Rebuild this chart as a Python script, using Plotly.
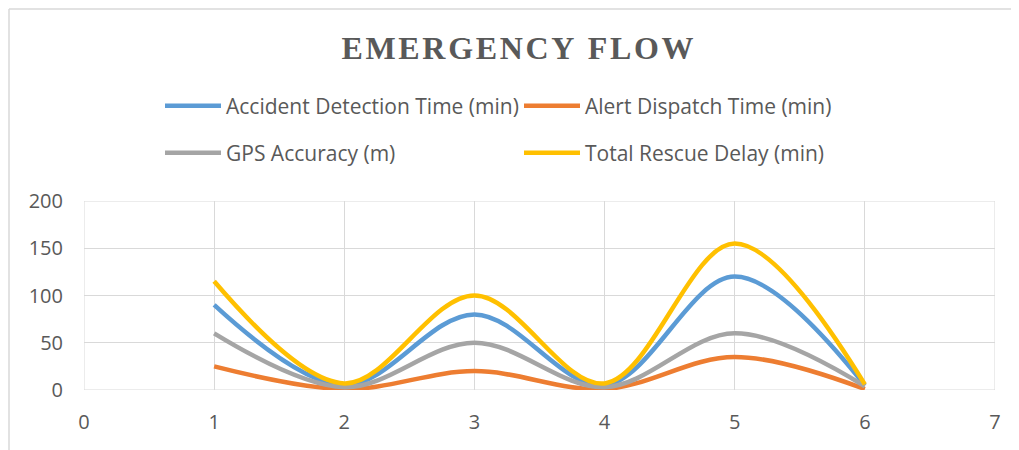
import plotly.graph_objects as go

x_vals = [1, 2, 3, 4, 5, 6]
detection = [90, 5, 80, 5, 120, 5]
dispatch = [25, 1, 20, 1, 35, 1]
gps = [60, 3, 50, 3, 60, 4]
total = [115, 7, 100, 7, 155, 6]

names = ["Accident Detection Time (min)", "Alert Dispatch Time (min)",
         "GPS Accuracy (m)", "Total Rescue Delay (min)"]
colors = ["#5B9BD5", "#ED7D31", "#A5A5A5", "#FFC000"]
series = [detection, dispatch, gps, total]
legend_ids = ["legend", "legend", "legend2", "legend2"]

W, H = 1011, 442  # page has an 8px body margin

fig = go.Figure()
for n, c, s, lg in zip(names, colors, series, legend_ids):
    fig.add_trace(go.Scatter(x=x_vals, y=s, name=n, mode="lines", legend=lg,
                             line=dict(color=c, width=4.5, shape="spline", smoothing=1.0)))

title = "\u200a".join("EMERGENCY FLOW")
leg_common = dict(orientation="h", xref="container", yref="container",
                  xanchor="left", yanchor="middle",
                  entrywidth=288, entrywidthmode="pixels",
                  font=dict(family="Open Sans", size=21, color="#595959"),
                  itemwidth=56, bgcolor="rgba(0,0,0,0)")
fig.update_layout(
    width=W, height=H,
    margin=dict(l=76, r=24, t=193, b=60, autoexpand=False),
    paper_bgcolor="white", plot_bgcolor="white",
    title=dict(text="<b>" + title + "</b>", xref="container", x=509.5 / W, xanchor="center",
               yref="container", y=1 - 40 / H, yanchor="middle",
               font=dict(family="Liberation Serif", size=32, color="#595959")),
    legend=dict(x=152 / W, y=1 - 98 / H, **leg_common),
    legend2=dict(x=152 / W, y=1 - 145 / H, **leg_common),
    font=dict(family="Open Sans", color="#595959"),
    xaxis=dict(range=[0, 7], dtick=1, tick0=0, showgrid=True, gridcolor="#D9D9D9", gridwidth=1,
               zeroline=False, showline=False, tickfont=dict(size=20, color="#595959"),
               ticks="", ticklabelstandoff=18),
    yaxis=dict(range=[0, 200], dtick=50, showgrid=True, gridcolor="#D9D9D9", gridwidth=1,
               zeroline=False, showline=False, tickfont=dict(size=20, color="#595959"),
               ticks="", ticklabelstandoff=20),
    shapes=[
        dict(type="rect", xref="x", yref="y", x0=0, x1=7, y0=0, y1=200,
             line=dict(color="#D9D9D9", width=1), layer="below"),
        dict(type="line", xref="paper", yref="paper", x0=-75 / 911, x1=-75 / 911,
             y0=-0.5, y1=381 / 189, line=dict(color="#D9D9D9", width=1.5)),
        dict(type="line", xref="paper", yref="paper", x0=-75 / 911, x1=1.1,
             y0=381 / 189, y1=381 / 189, line=dict(color="#D9D9D9", width=1.5)),
    ],
)
fig.write_html("out.html")
